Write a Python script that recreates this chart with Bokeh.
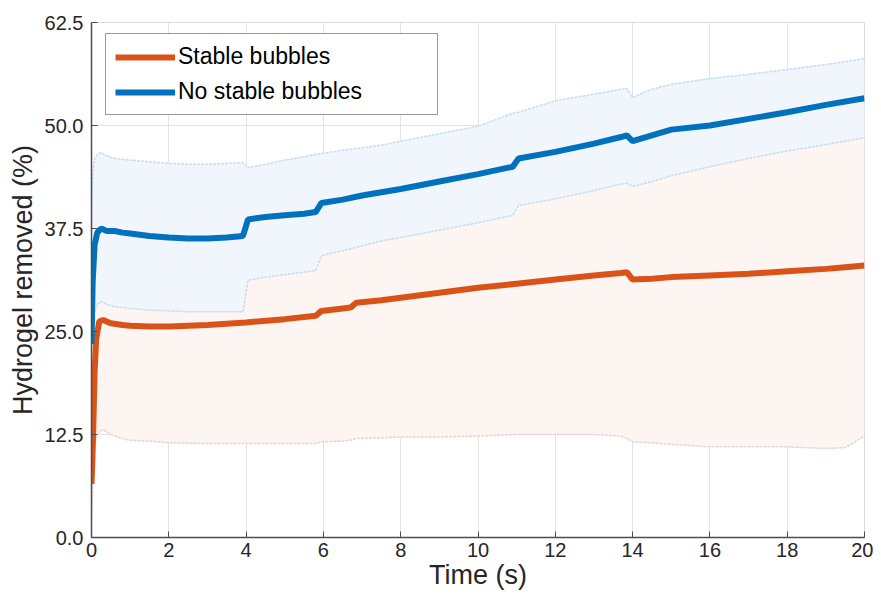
from bokeh.plotting import figure
from bokeh.models import Legend, LegendItem, FixedTicker, NumeralTickFormatter, Range1d
from bokeh.embed import file_html
from bokeh.resources import INLINE

# ---- data ----
t_blue = [0, 0.03, 0.08, 0.15, 0.25, 0.4, 0.6, 0.8, 1.0, 1.5, 2.0, 2.5, 3.0, 3.5, 3.92, 4.05,
          4.5, 5.0, 5.5, 5.8, 5.95, 6.5, 7.0, 7.5, 8, 9, 10, 10.9, 11.05, 12, 13, 13.7, 13.85,
          14.0, 14.5, 15, 16, 17, 18, 19, 20]
no_stable_mean = [23.5, 31, 35.5, 37.0, 37.5, 37.2, 37.2, 37.0, 36.9, 36.6, 36.4, 36.3, 36.3, 36.4,
                  36.6, 38.6, 38.9, 39.1, 39.3, 39.5, 40.6, 41.0, 41.5, 41.9, 42.3, 43.2, 44.1,
                  45.0, 46.0, 46.8, 47.8, 48.6, 48.8, 48.1, 48.8, 49.5, 50.0, 50.8, 51.6, 52.5, 53.3]
no_stable_upper = [40, 44, 46, 46.5, 46.7, 46.3, 46.0, 45.9, 45.8, 45.6, 45.4, 45.3, 45.3, 45.4,
                   45.5, 44.9, 45.3, 45.8, 46.2, 46.5, 46.6, 47.0, 47.3, 47.6, 48.1, 49.0, 49.9,
                   51.5, 51.6, 53.0, 53.8, 54.4, 54.5, 53.4, 54.4, 55.0, 55.7, 56.2, 56.8, 57.4, 58.1]
no_stable_lower = [23, 25, 27.5, 28.3, 28.6, 28.3, 28.0, 27.9, 27.8, 27.6, 27.5, 27.4, 27.4, 27.4,
                   27.4, 31.2, 31.6, 31.9, 32.2, 32.4, 34.2, 34.8, 35.4, 36.0, 36.4, 37.3, 38.2,
                   39.1, 40.3, 41.1, 42.1, 42.9, 43.0, 42.6, 43.2, 43.9, 45.0, 46.0, 46.9, 47.7, 48.5]

t_orange = [0, 0.02, 0.05, 0.08, 0.12, 0.2, 0.3, 0.5, 0.8, 1, 1.5, 2, 3, 4, 5, 5.8, 5.95, 6.5,
            6.7, 6.85, 7.5, 8, 9, 10, 11, 12, 13, 13.7, 13.85, 14.0, 14.5, 15, 16, 17, 18, 19,
            19.5, 20]
stable_mean = [6.5, 9, 14, 20, 24, 26.2, 26.4, 26.0, 25.8, 25.7, 25.6, 25.6, 25.8, 26.1, 26.5,
               26.9, 27.5, 27.8, 27.9, 28.5, 28.8, 29.1, 29.7, 30.3, 30.8, 31.3, 31.8, 32.1, 32.2,
               31.3, 31.4, 31.6, 31.8, 32.0, 32.3, 32.6, 32.8, 33.0]
stable_lower = [2.4, 5, 9, 11, 12, 12.8, 13.1, 12.5, 12.0, 11.8, 11.7, 11.5, 11.4, 11.4, 11.4,
                11.4, 11.6, 11.7, 11.8, 12.0, 12.1, 12.2, 12.2, 12.3, 12.5, 12.5, 12.5, 12.3, 12.0,
                11.6, 11.5, 11.3, 11.0, 11.0, 11.0, 10.8, 10.9, 12.3]
stable_upper = [2 * m - l for m, l in zip(stable_mean, stable_lower)]

x_ticks = [0, 2, 4, 6, 8, 10, 12, 14, 16, 18, 20]
y_ticks = [0, 12.5, 25, 37.5, 50, 62.5]

ORANGE = "#D95319"
BLUE = "#0072BD"
FONT = "Liberation Sans"

p = figure(width=873, height=593, output_backend="svg", toolbar_location=None,
           x_range=Range1d(0, 20), y_range=Range1d(0, 62.5),
           min_border_left=91, min_border_right=9, min_border_top=22, min_border_bottom=56)

# bands
p.varea(x=t_orange, y1=stable_lower, y2=stable_upper, fill_color="#FCF5F2", fill_alpha=1)
p.line(t_orange, stable_lower, line_color="#EBD3D0", line_width=1.5, line_dash="3 1")
p.varea(x=t_blue, y1=no_stable_lower, y2=no_stable_upper, fill_color="#F0F6FC", fill_alpha=1)
p.line(t_blue, no_stable_lower, line_color="#C8DDF2", line_width=1.5, line_dash="3 1")
p.line(t_blue, no_stable_upper, line_color="#C8DDF2", line_width=1.5, line_dash="3 1")

r_st = p.line(t_orange, stable_mean, line_color=ORANGE, line_width=6)
r_ns = p.line(t_blue, no_stable_mean, line_color=BLUE, line_width=6)

# axes
p.xaxis.ticker = FixedTicker(ticks=x_ticks)
p.yaxis.ticker = FixedTicker(ticks=y_ticks)
p.yaxis.formatter = NumeralTickFormatter(format="0.0")
p.xaxis.axis_label = "Time (s)"
p.yaxis.axis_label = "Hydrogel removed (%)"
for ax in (p.xaxis, p.yaxis):
    ax.axis_label_text_font = FONT
    ax.axis_label_text_font_size = "27px"
    ax.axis_label_text_font_style = "normal"
    ax.axis_label_text_color = "#262626"
    ax.major_label_text_font = FONT
    ax.major_label_text_font_size = "20px"
    ax.major_label_text_color = "#262626"
    ax.axis_line_color = "#4D4D4D"
    ax.axis_line_width = 1.5
    ax.major_tick_line_color = "#4D4D4D"
    ax.major_tick_in = 6
    ax.major_tick_out = 0
    ax.minor_tick_line_color = None
p.xaxis.major_label_standoff = 5
p.xaxis.axis_label_standoff = 0
p.yaxis.major_label_standoff = 8
p.yaxis.axis_label_standoff = 4

p.xgrid.grid_line_color = "#E3E3E3"
p.ygrid.grid_line_color = "#E3E3E3"
p.outline_line_color = "#D9D9D9"
p.outline_line_width = 1

legend = Legend(items=[LegendItem(label="Stable bubbles", renderers=[r_st]),
                       LegendItem(label="No stable bubbles", renderers=[r_ns])],
                location=(14, 422))
legend.label_text_font = FONT
legend.label_text_font_size = "23px"
legend.label_text_color = "#000000"
legend.glyph_width = 60
legend.glyph_height = 24
legend.label_height = 24
legend.label_width = 250
legend.label_standoff = 3
legend.padding = 9
legend.spacing = 8
legend.margin = 0
legend.border_line_color = "#333333"
legend.border_line_width = 1.5
legend.background_fill_color = "white"
legend.background_fill_alpha = 1
p.add_layout(legend)

open("out.html", "w").write(file_html(p, INLINE))
